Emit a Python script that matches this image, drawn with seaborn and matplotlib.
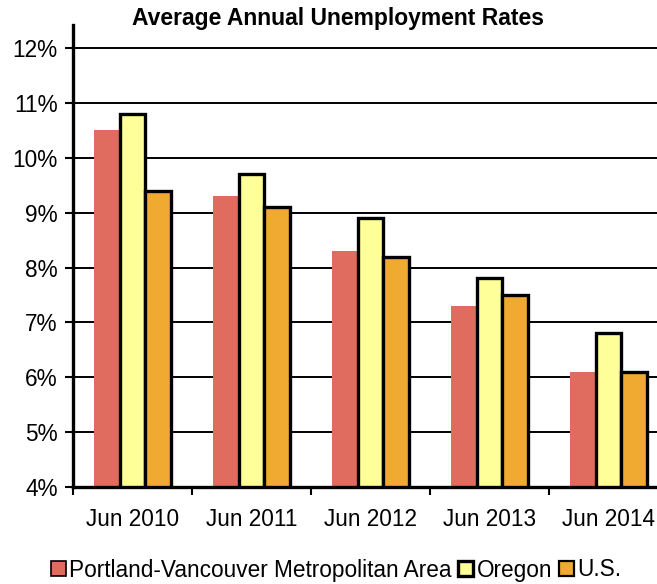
import matplotlib
matplotlib.use("Agg")
import matplotlib.pyplot as plt
import seaborn as sns
import pandas as pd
import numpy as np
from matplotlib.patches import Patch
from matplotlib.ticker import FuncFormatter, FixedLocator

categories = ["Jun 2010", "Jun 2011", "Jun 2012", "Jun 2013", "Jun 2014"]
series_names = ["Portland-Vancouver Metropolitan Area", "Oregon", "U.S."]
portland = [10.5, 9.3, 8.3, 7.3, 6.1]
oregon = [10.8, 9.7, 8.9, 7.8, 6.8]
us = [9.4, 9.1, 8.2, 7.5, 6.1]
colors = ["#E06C60", "#FFFF99", "#F0AA32"]
title = "Average Annual Unemployment Rates"

rows = []
for name, vals in zip(series_names, [portland, oregon, us]):
    for c, v in zip(categories, vals):
        rows.append({"Date": c, "Series": name, "Rate": v})
df = pd.DataFrame(rows)

sns.set_theme(style="white")
plt.rcParams["font.family"] = ["Liberation Sans", "DejaVu Sans"]

fig = plt.figure(figsize=(6.57, 5.84), dpi=100)
ax = fig.add_axes([73/657, (584-487)/584, (668-73)/657, (487-25)/584])

sns.barplot(data=df, x="Date", y="Rate", hue="Series", order=categories,
            hue_order=series_names, palette=colors, width=0.65, gap=0,
            saturation=1, ax=ax, legend=False, zorder=3)

edge_w = [0, 2.4, 2.4]
for cont, lw in zip(ax.containers, edge_w):
    for bar in cont:
        bar.set_edgecolor("black" if lw > 0 else "none")
        bar.set_linewidth(lw)
        bar.set_zorder(3)

ax.set_ylim(4, 12.42)
ax.set_xlim(-0.5, 4.5)
ax.set_yticks(np.arange(4, 13, 1))
ax.yaxis.set_major_formatter(FuncFormatter(lambda v, p: f"{int(round(v))}%"))
ax.grid(axis="y", color="black", linewidth=1.4, zorder=0)
ax.set_axisbelow(True)
ax.set_xlabel("")
ax.set_ylabel("")

for s in ["top", "right"]:
    ax.spines[s].set_visible(False)
for s in ["left", "bottom"]:
    ax.spines[s].set_color("black")
    ax.spines[s].set_linewidth(2.4)
    ax.spines[s].set_zorder(5)

ax.tick_params(axis="y", which="major", direction="out", length=6, width=1.5,
               color="black", labelsize=16.3, pad=5, left=True)
ax.tick_params(axis="x", which="major", length=0, labelsize=16.3, pad=15, colors="black")
ax.xaxis.set_minor_locator(FixedLocator(np.arange(-0.5, 5.0, 1.0)))
ax.tick_params(axis="x", which="minor", direction="out", length=6, width=1.5,
               color="black", bottom=True)
for lab in ax.get_yticklabels() + ax.get_xticklabels():
    lab.set_color("black")

fig.text(338/657, 1 - 19/584, title, ha="center", va="center",
         fontsize=16.5, fontweight="bold", color="black")

handles = [Patch(facecolor=colors[0], edgecolor="black", linewidth=1.2),
           Patch(facecolor=colors[1], edgecolor="black", linewidth=2.4),
           Patch(facecolor=colors[2], edgecolor="black", linewidth=1.6)]
fig.legend(handles, series_names, loc="center", bbox_to_anchor=(336/657, 1 - 570/584),
           ncol=3, frameon=False, fontsize=16.3, handlelength=0.65, handleheight=0.65,
           handletextpad=0.15, columnspacing=0.3, borderpad=0, labelcolor="black")

fig.savefig("out.png", dpi=100)
